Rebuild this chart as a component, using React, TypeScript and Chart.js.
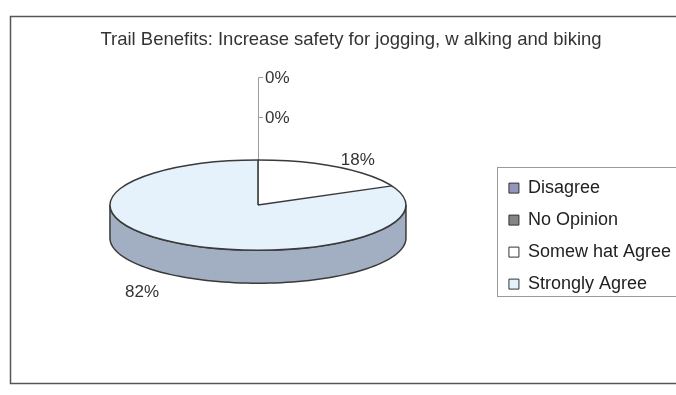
import { useEffect, useRef } from 'react';
import { Chart, registerables } from 'chart.js';

Chart.register(...registerables);

// ---- data ----
const TITLE = 'Trail Benefits: Increase safety for jogging, w alking and biking';
const categories = ['Disagree', 'No Opinion', 'Somew hat Agree', 'Strongly Agree'];
const values = [0, 0, 18, 82];

// ---- style ----
const topColors = ['#9494BC', '#858585', '#FFFFFF', '#E6F2FB'];
const sideColors = ['#6E6E96', '#606060', '#C8C8C8', '#A2AEC2'];
const FONT = "'Liberation Sans', Arial, sans-serif";
const TILT = 0.305;
const DEPTH = 33;
const PIE_SHIFT_Y = -31;
const OUTLINE = '#3a3a3a';

function frontRanges(s: number, e: number): [number, number][] {
  const out: [number, number][] = [];
  for (let k = -2; k <= 2; k++) {
    const a = Math.max(s, 2 * Math.PI * k);
    const b = Math.min(e, 2 * Math.PI * k + Math.PI);
    if (b > a) out.push([a, b]);
  }
  return out;
}

function geom(chart: any) {
  const meta = chart.getDatasetMeta(0);
  const el0: any = meta.data[0];
  const ax = el0.x;
  const ay = el0.y;
  const r = el0.outerRadius;
  return { meta, ax, ay, cx: ax, cy: ay + PIE_SHIFT_Y, rx: r, ry: r * TILT };
}

const pie3d = {
  id: 'pie3d',
  beforeDatasetsDraw(chart: any) {
    const { meta, ax, ay, cx, cy, rx, ry } = geom(chart);
    const ctx = chart.ctx;
    meta.data.forEach((el: any, i: number) => {
      if (el.endAngle - el.startAngle <= 1e-9) return;
      frontRanges(el.startAngle, el.endAngle).forEach(([a, b]) => {
        const n = 80;
        ctx.beginPath();
        for (let j = 0; j <= n; j++) {
          const t = a + ((b - a) * j) / n;
          const x = cx + rx * Math.cos(t);
          const y = cy + ry * Math.sin(t);
          if (j === 0) ctx.moveTo(x, y);
          else ctx.lineTo(x, y);
        }
        for (let j = n; j >= 0; j--) {
          const t = a + ((b - a) * j) / n;
          ctx.lineTo(cx + rx * Math.cos(t), cy + ry * Math.sin(t) + DEPTH);
        }
        ctx.closePath();
        ctx.fillStyle = sideColors[i];
        ctx.fill();
        ctx.strokeStyle = OUTLINE;
        ctx.lineWidth = 1.5;
        ctx.stroke();
      });
    });
    ctx.save();
    ctx.translate(ax, cy);
    ctx.scale(1, TILT);
    ctx.translate(-ax, -ay);
  },
  afterDatasetsDraw(chart: any) {
    const ctx = chart.ctx;
    ctx.restore();
    const { meta, cx, cy, rx, ry } = geom(chart);
    const total = values.reduce((s, v) => s + v, 0);

    // leader lines + labels for zero slices
    const zeros = values.map((v, i) => (v === 0 ? i : -1)).filter((i) => i >= 0);
    ctx.font = `17px ${FONT}`;
    ctx.textBaseline = 'middle';
    if (zeros.length) {
      const ys = zeros.map((_, z) => cy - ry - 3 - 40 * (zeros.length - z));
      ctx.strokeStyle = '#9a9a9a';
      ctx.lineWidth = 1;
      ctx.beginPath();
      ctx.moveTo(cx + 0.5, cy);
      ctx.lineTo(cx + 0.5, Math.round(Math.min(...ys)) + 0.5);
      ys.forEach((y) => {
        ctx.moveTo(cx + 0.5, Math.round(y) + 0.5);
        ctx.lineTo(cx + 5, Math.round(y) + 0.5);
      });
      ctx.stroke();
      ctx.fillStyle = '#333';
      ctx.textAlign = 'left';
      zeros.forEach((idx, z) => {
        ctx.fillText(`${Math.round((values[idx] / total) * 100)}%`, cx + 7, ys[z] + 1);
      });
    }

    // outline of top face
    ctx.strokeStyle = OUTLINE;
    ctx.lineWidth = 1.5;
    ctx.beginPath();
    ctx.ellipse(cx, cy, rx, ry, 0, 0, Math.PI * 2);
    ctx.stroke();

    // radial edges
    ctx.beginPath();
    meta.data.forEach((el: any) => {
      const c = el.endAngle - el.startAngle;
      if (c <= 1e-9 || c >= Math.PI * 2 - 1e-9) return;
      [el.startAngle, el.endAngle].forEach((t: number) => {
        ctx.moveTo(cx, cy);
        ctx.lineTo(cx + rx * Math.cos(t), cy + ry * Math.sin(t));
      });
    });
    ctx.stroke();

    // percentage labels for non-zero slices
    ctx.fillStyle = '#333';
    ctx.textAlign = 'center';
    meta.data.forEach((el: any, i: number) => {
      if (values[i] === 0) return;
      const m = (el.startAngle + el.endAngle) / 2;
      const s = Math.sin(m);
      const x = cx + rx * 1.36 * Math.cos(m) - 8;
      const y = cy + ry * 1.3 * s + (s > 0 ? DEPTH : 0) + 5;
      ctx.fillText(`${Math.round((values[i] / total) * 100)}%`, x, y);
    });
  },
  afterDraw(chart: any) {
    const ctx = chart.ctx;
    // outer frame
    ctx.save();
    ctx.strokeStyle = '#555';
    ctx.lineWidth = 1.5;
    ctx.strokeRect(10.5, 16.5, chart.width, 367);
    // legend frame
    const hb = chart.legend.legendHitBoxes;
    if (hb && hb.length) {
      const top = hb[0].top - 12;
      const bottom = hb[hb.length - 1].top + hb[hb.length - 1].height + 3;
      ctx.strokeStyle = '#9a9a9a';
      ctx.lineWidth = 1;
      ctx.strokeRect(Math.round(hb[0].left - 12) + 0.5, Math.round(top) + 0.5, chart.width, Math.round(bottom - top));
    }
    ctx.restore();
  },
};

export default function App() {
  const ref = useRef<HTMLCanvasElement>(null);
  useEffect(() => {
    if (!ref.current) return;
    const chart = new Chart(ref.current, {
      type: 'pie',
      data: {
        labels: categories,
        datasets: [
          {
            data: values,
            backgroundColor: topColors,
            borderWidth: 0,
            clip: false as any,
          },
        ],
      },
      options: {
        responsive: false,
        animation: false,
        devicePixelRatio: 1,
        radius: 148,
        layout: { padding: { left: 21, top: 0, right: 19, bottom: 0 } },
        plugins: {
          title: {
            display: true,
            text: TITLE,
            color: '#333',
            font: { family: FONT, size: 18.5, weight: 'normal' as any },
            padding: { top: 29, bottom: 26 },
          },
          legend: {
            display: true,
            position: 'right',
            fullSize: false,
            labels: {
              boxWidth: 10,
              boxHeight: 10,
              padding: 14,
              color: '#222',
              font: { family: FONT, size: 18 },
              generateLabels: (c: any) => {
                const base = (Chart as any).overrides.pie.plugins.legend.labels.generateLabels(c);
                return base.map((l: any) => ({ ...l, strokeStyle: '#333', lineWidth: 1 }));
              },
            },
          },
          tooltip: { enabled: false },
        },
      } as any,
      plugins: [pie3d],
    });
    return () => chart.destroy();
  }, []);
  return (
    <div style={{ position: 'fixed', left: 0, top: 0, width: 676, height: 395, overflow: 'hidden', background: '#fff' }}>
      <canvas ref={ref} width={700} height={395} style={{ display: 'block' }} />
    </div>
  );
}
